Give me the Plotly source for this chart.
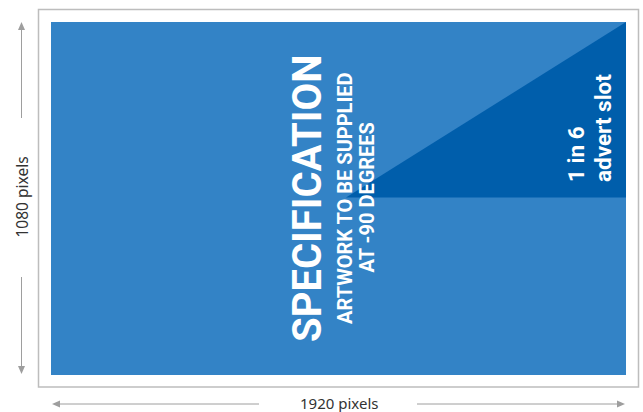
import plotly.graph_objects as go

# ---- content ----
width_label = "1920 pixels"
height_label = "1080 pixels"
title_text = "SPECIFICATION"
sub_lines = ["ARTWORK TO BE SUPPLIED", "AT -90 DEGREES"]
slot_lines = ["1 in 6", "advert slot"]

# ---- colours ----
light_blue = "#3383C6"
dark_blue = "#005EAB"
border_col = "#BDBDBD"
arrow_col = "#9E9E9E"

W, H = 643, 412
fig = go.Figure()

shapes = [
    # outer frame
    dict(type="rect", x0=38.5, y0=9.5, x1=638.5, y1=387, line=dict(color=border_col, width=1.5)),
    # screen
    dict(type="rect", x0=51, y0=22, x1=626, y1=375, fillcolor=light_blue, line=dict(width=0)),
    # advert slot triangle
    dict(type="path", path="M 626 22 L 626 197.5 L 346 197.5 Z", fillcolor=dark_blue, line=dict(width=0)),
    # dimension lines
    dict(type="line", x0=21.5, y0=27, x1=21.5, y1=118, line=dict(color=arrow_col, width=1)),
    dict(type="line", x0=21.5, y0=277, x1=21.5, y1=369, line=dict(color=arrow_col, width=1)),
    dict(type="line", x0=57, y0=404, x1=259, y1=404, line=dict(color=arrow_col, width=1)),
    dict(type="line", x0=417, y0=404, x1=620, y1=404, line=dict(color=arrow_col, width=1)),
    # arrow heads
    dict(type="path", path="M 21.5 22 L 18 30 L 25 30 Z", fillcolor=arrow_col, line=dict(width=0)),
    dict(type="path", path="M 21.5 374 L 18 366 L 25 366 Z", fillcolor=arrow_col, line=dict(width=0)),
    dict(type="path", path="M 52 404 L 60 400.5 L 60 407.5 Z", fillcolor=arrow_col, line=dict(width=0)),
    dict(type="path", path="M 625 404 L 617 400.5 L 617 407.5 Z", fillcolor=arrow_col, line=dict(width=0)),
]

ann = [
    dict(x=21.5, y=197, text=height_label, textangle=-90, showarrow=False,
         font=dict(family="Noto Sans", size=15.5, color="#333333")),
    dict(x=338.5, y=402.5, text=width_label, showarrow=False, borderpad=0,
         font=dict(family="Noto Sans", size=15, color="#333333")),
    dict(x=307.5, y=198.5, text="<b>" + title_text + "</b>", textangle=-90, showarrow=False,
         font=dict(family="Roboto", size=40, color="white")),
    dict(x=345, y=198, text="<b>" + sub_lines[0] + "</b>", textangle=-90, showarrow=False,
         font=dict(family="Roboto", size=20, color="white")),
    dict(x=366.5, y=198, text="<b>" + sub_lines[1] + "</b>", textangle=-90, showarrow=False,
         font=dict(family="Roboto", size=20, color="white")),
    dict(x=576, y=184, yanchor="bottom", text="<b>" + slot_lines[0] + "</b>", textangle=-90, showarrow=False,
         font=dict(family="Roboto", size=22.5, color="white")),
    dict(x=603, y=184, yanchor="bottom", text="<b>" + slot_lines[1] + "</b>", textangle=-90, showarrow=False,
         font=dict(family="Roboto", size=22.5, color="white")),
]

fig.update_layout(
    width=W, height=H, margin=dict(l=0, r=0, t=0, b=0),
    paper_bgcolor="white", plot_bgcolor="white",
    xaxis=dict(range=[0, W], visible=False, fixedrange=True),
    yaxis=dict(range=[H, 0], visible=False, fixedrange=True),
    shapes=shapes, annotations=ann, showlegend=False,
)
fig.write_html("out.html", config={"displayModeBar": False},
               post_script="document.body.style.margin='0';document.body.style.overflow='hidden';")
